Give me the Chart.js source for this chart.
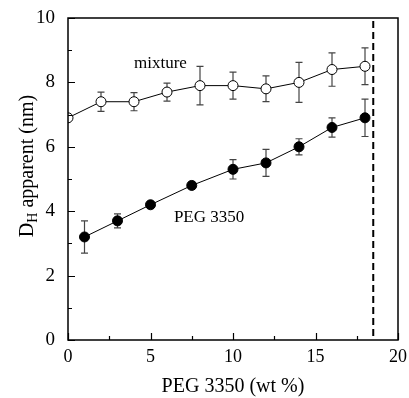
<!DOCTYPE html>
<html>
<head>
<meta charset="utf-8">
<script src="https://cdn.jsdelivr.net/npm/chart.js@4"></script>
<style>
  html, body { margin: 0; padding: 0; background: #fff; }
  #wrap { width: 409px; height: 398px; }
</style>
</head>
<body>
<div id="wrap"><canvas id="c" width="409" height="398"></canvas></div>
<script>
// ---- data ----
const mixtureX   = [0, 2, 4, 6, 8, 10, 12, 14, 16, 18];
const mixtureY   = [6.9, 7.4, 7.4, 7.7, 7.9, 7.9, 7.8, 8.0, 8.4, 8.5];
const mixtureErr = [0, 0.3, 0.28, 0.28, 0.6, 0.42, 0.4, 0.62, 0.52, 0.57];

const pegX   = [1, 3, 5, 7.5, 10, 12, 14, 16, 18];
const pegY   = [3.2, 3.7, 4.2, 4.8, 5.3, 5.5, 6.0, 6.6, 6.9];
const pegErr = [0.5, 0.22, 0.08, 0.1, 0.3, 0.42, 0.25, 0.3, 0.58];

const xTicks = [0, 5, 10, 15, 20];
const yTicks = [0, 2, 4, 6, 8, 10];
const phaseBoundaryX = 18.5;

const seriesLabels = ['mixture', 'PEG 3350'];
const xTitle = 'PEG 3350 (wt %)';
const yTitleMain = 'D';
const yTitleSub = 'H';
const yTitleRest = ' apparent (nm)';

const FONT = '"Liberation Serif", "Times New Roman", serif';

function toPoints(xs, ys, es) {
  return xs.map((x, i) => ({ x: x, y: ys[i], e: es[i] }));
}

function zeroPad(s) { s.paddingTop = 0; s.paddingBottom = 0; s.paddingLeft = 0; s.paddingRight = 0; }

const decorPlugin = {
  id: 'decor',
  beforeDatasetsDraw(chart) {
    const ctx = chart.ctx;
    const xs = chart.scales.x, ys = chart.scales.y;
    const a = chart.chartArea;
    ctx.save();
    ctx.beginPath();
    ctx.rect(a.left, a.top, a.right - a.left, a.bottom - a.top);
    ctx.clip();
    // error bars
    ctx.strokeStyle = '#444';
    ctx.lineWidth = 1.2;
    chart.data.datasets.forEach(ds => {
      ds.data.forEach(p => {
        if (!p.e) return;
        const px = xs.getPixelForValue(p.x);
        const top = ys.getPixelForValue(p.y + p.e);
        const bot = ys.getPixelForValue(p.y - p.e);
        ctx.beginPath();
        ctx.moveTo(px, top); ctx.lineTo(px, bot);
        ctx.moveTo(px - 3.5, top); ctx.lineTo(px + 3.5, top);
        ctx.moveTo(px - 3.5, bot); ctx.lineTo(px + 3.5, bot);
        ctx.stroke();
      });
    });
    // dashed boundary
    const bx = xs.getPixelForValue(phaseBoundaryX);
    ctx.strokeStyle = '#000';
    ctx.lineWidth = 2;
    ctx.setLineDash([7, 4]);
    ctx.beginPath();
    ctx.moveTo(bx, a.top + 3); ctx.lineTo(bx, a.bottom);
    ctx.stroke();
    ctx.restore();
  },
  afterDraw(chart) {
    const ctx = chart.ctx;
    const xs = chart.scales.x, ys = chart.scales.y;
    const a = chart.chartArea;
    ctx.save();
    // frame
    ctx.strokeStyle = '#000';
    ctx.lineWidth = 1.5;
    ctx.strokeRect(a.left, a.top, a.right - a.left, a.bottom - a.top);
    // inward tick marks
    ctx.lineWidth = 1.2;
    ctx.beginPath();
    for (let v = 0; v <= 20; v += 2.5) {
      const px = Math.round(xs.getPixelForValue(v)) + 0.5;
      const len = (v % 5 === 0) ? 7 : 4;
      ctx.moveTo(px, a.bottom); ctx.lineTo(px, a.bottom - len);
    }
    for (let v = 0; v <= 10; v += 1) {
      const py = Math.round(ys.getPixelForValue(v)) + 0.5;
      const len = (v % 2 === 0) ? 7 : 4;
      ctx.moveTo(a.left, py); ctx.lineTo(a.left + len, py);
    }
    ctx.stroke();
    // series annotations
    ctx.fillStyle = '#000';
    ctx.font = '17px ' + FONT;
    ctx.textAlign = 'center';
    ctx.textBaseline = 'alphabetic';
    ctx.fillText(seriesLabels[0], xs.getPixelForValue(5.6), ys.getPixelForValue(8.45));
    ctx.fillText(seriesLabels[1], xs.getPixelForValue(8.55), ys.getPixelForValue(3.65));
    // y-axis title with subscript
    const mainFont = '20px ' + FONT, subFont = '14px ' + FONT;
    ctx.font = mainFont; const wD = ctx.measureText(yTitleMain).width;
    const wR = ctx.measureText(yTitleRest).width;
    ctx.font = subFont; const wH = ctx.measureText(yTitleSub).width;
    const total = wD + wH + wR;
    ctx.translate(33, 166);
    ctx.rotate(-Math.PI / 2);
    ctx.textAlign = 'left';
    let x0 = -total / 2;
    ctx.font = mainFont; ctx.fillText(yTitleMain, x0, 0); x0 += wD;
    ctx.font = subFont; ctx.fillText(yTitleSub, x0, 4); x0 += wH;
    ctx.font = mainFont; ctx.fillText(yTitleRest, x0, 0);
    ctx.restore();
  }
};

new Chart(document.getElementById('c'), {
  type: 'line',
  data: {
    datasets: [
      {
        label: seriesLabels[0],
        data: toPoints(mixtureX, mixtureY, mixtureErr),
        borderColor: '#000', borderWidth: 1,
        pointRadius: 5, pointBorderWidth: 1,
        pointBackgroundColor: '#fff', pointBorderColor: '#000',
        clip: 0, tension: 0
      },
      {
        label: seriesLabels[1],
        data: toPoints(pegX, pegY, pegErr),
        borderColor: '#000', borderWidth: 1,
        pointRadius: 5, pointBorderWidth: 1,
        pointBackgroundColor: '#000', pointBorderColor: '#000',
        clip: 0, tension: 0
      }
    ]
  },
  options: {
    responsive: false,
    animation: false,
    events: [],
    layout: { padding: { top: 18, right: 11, left: 0, bottom: 0 } },
    plugins: { legend: { display: false }, tooltip: { enabled: false } },
    scales: {
      x: {
        type: 'linear', min: 0, max: 20,
        grid: { display: false, drawTicks: false },
        border: { display: false },
        afterBuildTicks(s) { s.ticks = xTicks.map(v => ({ value: v })); },
        ticks: { color: '#000', font: { family: FONT, size: 18 }, padding: 6, maxRotation: 0 },
        title: { display: true, text: xTitle, color: '#000',
                 font: { family: FONT, size: 20, lineHeight: 1 }, padding: { top: 0, bottom: 1 } },
        afterFit(s) { s.height = 58; zeroPad(s); }
      },
      y: {
        type: 'linear', min: 0, max: 10,
        grid: { display: false, drawTicks: false },
        border: { display: false },
        afterBuildTicks(s) { s.ticks = yTicks.map(v => ({ value: v })); },
        ticks: { color: '#000', font: { family: FONT, size: 19 }, padding: 13 },
        afterFit(s) { s.width = 68; zeroPad(s); }
      }
    }
  },
  plugins: [decorPlugin]
});
</script>
</body>
</html>
